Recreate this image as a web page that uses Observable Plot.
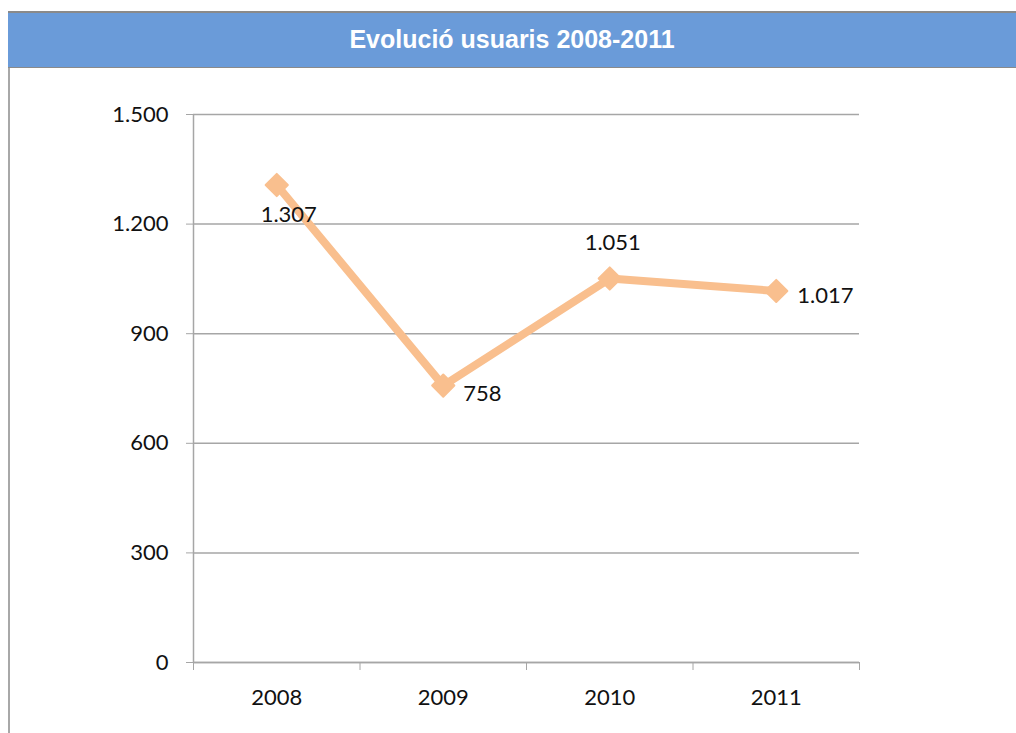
<!DOCTYPE html>
<html>
<head>
<meta charset="utf-8">
<script src="https://cdn.jsdelivr.net/npm/d3@7"></script>
<script src="https://cdn.jsdelivr.net/npm/@observablehq/plot@0.6"></script>
<style>
  html, body { margin: 0; padding: 0; background: #fff; }
  #wrap { position: absolute; left: 8px; top: 11px; width: 1008px; }
  #title { height: 54px; background: #6a9bd9; border-top: 2px solid #8a8a8a; border-bottom: 1px solid #8a8a8a;
           color: #fff; font: bold 25px "Liberation Sans", Arial, sans-serif; text-align: center; line-height: 52px; }
  #chart { border-left: 2px solid #a8a8a8; }
  #chart svg { display: block; }
</style>
</head>
<body>
<div id="wrap">
  <div id="title">Evolució usuaris 2008-2011</div>
  <div id="chart"></div>
</div>
<script>
const years = [2008, 2009, 2010, 2011];
const users = [1307, 758, 1051, 1017];
const yTicks = [0, 300, 600, 900, 1200, 1500];

const data = years.map((year, i) => ({year, users: users[i]}));
const loc = d3.formatLocale({decimal: ",", thousands: ".", grouping: [3], currency: ["", "€"]});
const fmt = loc.format(",d");
const boundaries = [years[0] - 0.5, ...years.map(y => y + 0.5)];

const lineColor = "#f9bf8e";
const gridColor = "#a6a6a6";
const font = "Lato, 'Open Sans', sans-serif";

const label = (year, opts) => Plot.text(data, {
  filter: d => d.year === year, x: "year", y: "users", text: d => fmt(d.users),
  fontSize: 22, fill: "#111", ...opts
});

const chart = Plot.plot({
  width: 1006,
  height: 665,
  marginLeft: 183,
  marginRight: 157,
  marginTop: 46,
  marginBottom: 71,
  style: {fontFamily: font, fontSize: "22px", color: "#111", background: "#fff"},
  x: {type: "linear", domain: [years[0] - 0.5, years[years.length - 1] + 0.5]},
  y: {domain: [0, 1500]},
  marks: [
    Plot.gridY(yTicks, {stroke: gridColor, strokeOpacity: 1, strokeWidth: 1.5}),
    Plot.ruleY([0], {stroke: gridColor, strokeWidth: 1.5}),
    Plot.ruleX([boundaries[0]], {stroke: gridColor, strokeWidth: 1.5}),
    Plot.axisY({ticks: yTicks, tickFormat: fmt, tickSize: 7, tickPadding: 18, stroke: gridColor, fill: "#111", fontSize: 22, label: null}),
    Plot.axisX({ticks: boundaries, tickFormat: () => "", tickSize: 8, stroke: gridColor, label: null}),
    Plot.axisX({ticks: years, tickFormat: d => String(d), tickSize: 0, tickPadding: 27, fill: "#111", fontSize: 22, label: null}),
    Plot.line(data, {x: "year", y: "users", stroke: lineColor, strokeWidth: 8, strokeLinejoin: "round"}),
    Plot.dot(data, {x: "year", y: "users", symbol: "diamond2", r: 10, fill: lineColor, stroke: lineColor, strokeWidth: 2, strokeLinejoin: "round"}),
    label(2008, {dx: 12, dy: 30}),
    label(2009, {dx: 20, dy: 8, textAnchor: "start"}),
    label(2010, {dx: 3, dy: -36}),
    label(2011, {dx: 21, dy: 5, textAnchor: "start"})
  ]
});
document.getElementById("chart").appendChild(chart);
</script>
</body>
</html>
